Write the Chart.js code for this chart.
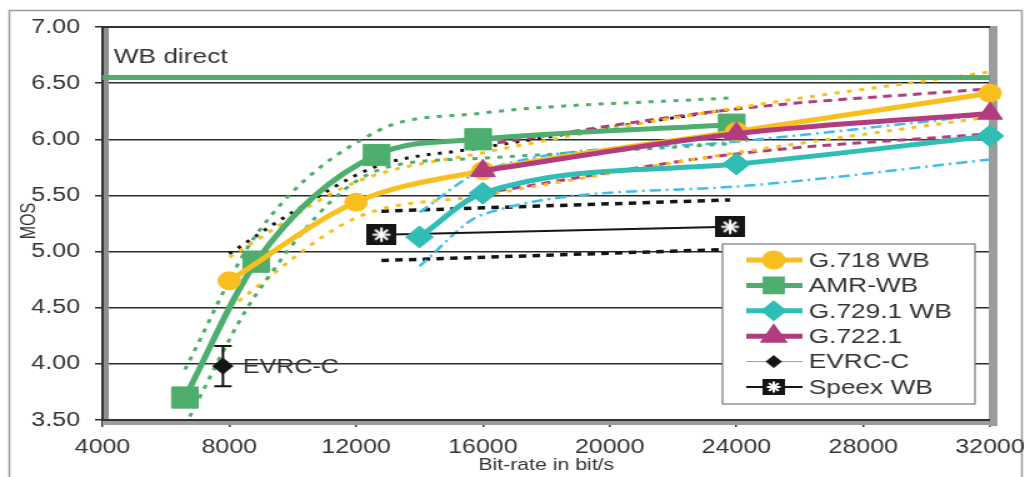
<!DOCTYPE html>
<html>
<head>
<meta charset="utf-8">
<script src="https://cdn.jsdelivr.net/npm/chart.js@4.4.1/dist/chart.umd.min.js"></script>
<style>
html, body { margin: 0; padding: 0; background: #fff; overflow: hidden; }
#wrap { position: absolute; left: 0; top: 0; width: 823px; height: 477px; transform: scaleX(1.25); transform-origin: 0 0; filter: blur(0.4px); }
</style>
</head>
<body>
<div id="wrap"><canvas id="c" width="823" height="477"></canvas></div>
<script>
// values (MOS vs bit-rate)
var rateG718 = [8000, 12000, 16000, 24000, 32000];
var mosG718 = [4.74, 5.44, 5.72, 6.07, 6.41];
var g718Hi = [4.95, 5.62, 5.88, 6.28, 6.60];
var g718Lo = [4.50, 5.30, 5.50, 5.88, 6.20];

var rateAmr = [6600, 8850, 12650, 15850, 23850];
var mosAmr = [3.70, 4.91, 5.86, 6.00, 6.13];
var amrHi = [3.95, 5.15, 6.07, 6.23, 6.37];
var amrLo = [3.45, 4.62, 5.72, 5.83, 5.96];

var rateG729 = [14000, 16000, 24000, 32000];
var mosG729 = [5.13, 5.52, 5.78, 6.03];
var g729Hi = [5.35, 5.72, 5.98, 6.22];
var g729Lo = [4.87, 5.33, 5.58, 5.82];

var rateG722 = [16000, 24000, 32000];
var mosG722 = [5.72, 6.05, 6.23];
var g722Hi = [5.95, 6.27, 6.45];
var g722Lo = [5.52, 5.87, 6.05];

var rateSpeex = [12800, 23800];
var mosSpeex = [5.15, 5.22];
var speexHi = [5.36, 5.46];
var speexLo = [4.92, 5.02];

var rateEvrc = [7800];
var mosEvrc = [3.98];
var evrcHi = [4.16];
var evrcLo = [3.80];

// unlabelled black dotted curve
var rateRef = [8000, 10000, 12650, 15850, 23850];
var mosRef = [4.98, 5.35, 5.76, 5.92, 6.27];

var wbDirect = 6.55;
var xMin = 4000, xMax = 32000, xStep = 4000;
var yMin = 3.5, yMax = 7, yStep = 0.5;

var FONT = "'Liberation Sans', Arial, sans-serif";
var YELLOW = '#F8BF1E', GREEN = '#4DAE6D', TEAL = '#2FBDB6', MAGENTA = '#B23C7D', BLUE = '#3DBDEF', BLACK = '#151515';

function pts(xs, ys) {
	return xs.map(function (x, i) { return { x: x, y: ys[i] }; });
}

function speexMark(w, h) {
	var c = document.createElement('canvas');
	c.width = w; c.height = h;
	var g = c.getContext('2d');
	g.fillStyle = BLACK;
	g.fillRect(0, 0, w, h);
	g.strokeStyle = '#fff';
	g.lineWidth = 2;
	var cx = w / 2, cy = h / 2, r = Math.min(w, h) * 0.34;
	for (var a = 0; a < 4; a++) {
		var t = a * Math.PI / 4;
		g.beginPath();
		g.moveTo(cx - r * Math.cos(t), cy - r * Math.sin(t));
		g.lineTo(cx + r * Math.cos(t), cy + r * Math.sin(t));
		g.stroke();
	}
	return c;
}
var speexBig = speexMark(24, 21);
var speexSmall = speexMark(18, 16);

function mainSet(label, xs, ys, color, style, radius, order) {
	return {
		label: label, data: pts(xs, ys), showLine: true, borderColor: color, borderWidth: 5,
		backgroundColor: color, pointBackgroundColor: color, pointBorderColor: color, pointBorderWidth: 1,
		pointStyle: style, pointRadius: radius, cubicInterpolationMode: 'monotone', clip: false, order: order
	};
}
function ciSet(xs, ys, color, dash, width) {
	return {
		label: '', data: pts(xs, ys), showLine: true, borderColor: color, borderWidth: width,
		borderDash: dash, pointRadius: 0, cubicInterpolationMode: 'monotone', order: 20
	};
}

var datasets = [
	mainSet('G.718 WB', rateG718, mosG718, YELLOW, 'circle', 9, 3),
	mainSet('AMR-WB', rateAmr, mosAmr, GREEN, 'rect', 15, 4),
	mainSet('G.729.1 WB', rateG729, mosG729, TEAL, 'rectRot', 11, 1),
	mainSet('G.722.1', rateG722, mosG722, MAGENTA, 'triangle', 11.5, 0),
	{
		label: 'EVRC-C', data: pts(rateEvrc, mosEvrc), showLine: false, borderColor: BLUE, borderWidth: 1,
		pointBackgroundColor: BLACK, pointBorderColor: BLACK, pointStyle: 'rectRot', pointRadius: 8, clip: false, order: 2
	},
	{
		label: 'Speex WB', data: pts(rateSpeex, mosSpeex), showLine: true, borderColor: BLACK, borderWidth: 2,
		pointStyle: speexBig, pointRadius: 12, clip: false, order: 5
	},
	{
		label: 'WB direct', data: [{ x: xMin, y: wbDirect }, { x: xMax, y: wbDirect }], showLine: true,
		borderColor: GREEN, borderWidth: 5, pointRadius: 0, order: 6
	},
	ciSet(rateAmr, amrHi, GREEN, [4, 6], 3),
	ciSet(rateAmr, amrLo, GREEN, [4, 6], 3),
	ciSet(rateG718, g718Hi, YELLOW, [4, 6], 3),
	ciSet(rateG718, g718Lo, YELLOW, [4, 6], 3),
	ciSet(rateG722, g722Hi, MAGENTA, [7, 5], 3),
	ciSet(rateG722, g722Lo, MAGENTA, [7, 5], 3),
	ciSet(rateG729, g729Hi, BLUE, [9, 4, 2, 4], 2.5),
	ciSet(rateG729, g729Lo, BLUE, [9, 4, 2, 4], 2.5),
	ciSet(rateSpeex, speexHi, BLACK, [6, 5], 3.5),
	ciSet(rateSpeex, speexLo, BLACK, [6, 5], 3.5),
	ciSet(rateRef, mosRef, BLACK, [3, 6], 3)
];

var legendItems = [
	{ idx: 0, r: 7 }, { idx: 1, r: 9 }, { idx: 2, r: 7 }, { idx: 3, r: 8 }, { idx: 4, r: 6 }, { idx: 5, img: speexSmall }
];

var decor = {
	id: 'decor',
	beforeDraw: function (chart) {
		var ctx = chart.ctx;
		ctx.save();
		ctx.strokeStyle = '#9a9a9a';
		ctx.lineWidth = 1.5;
		ctx.strokeRect(7.5, 10.5, 810, 480);
		ctx.restore();
	},
	beforeDatasetsDraw: function (chart) {
		var a = chart.chartArea, ctx = chart.ctx;
		ctx.save();
		ctx.fillStyle = '#8e8e8e';
		ctx.fillRect(a.left, a.top, 5, a.bottom - a.top);
		ctx.fillStyle = '#9c9c9c';
		ctx.fillRect(a.right - 1, a.top - 1, 7, a.bottom - a.top + 7);
		ctx.fillRect(a.left, a.bottom, a.right - a.left + 5, 5);
		ctx.strokeStyle = '#333';
		ctx.lineWidth = 2;
		ctx.beginPath();
		ctx.moveTo(a.left, a.bottom); ctx.lineTo(a.left, a.top); ctx.lineTo(a.right, a.top);
		ctx.moveTo(a.left, a.bottom); ctx.lineTo(a.right, a.bottom);
		ctx.stroke();
		ctx.restore();
	},
	afterDatasetsDraw: function (chart) {
		var ctx = chart.ctx, a = chart.chartArea;
		var xs = chart.scales.x, ys = chart.scales.y;
		ctx.save();
		// EVRC-C error bar
		ctx.strokeStyle = BLACK;
		ctx.lineWidth = 2;
		rateEvrc.forEach(function (r, i) {
			var px = xs.getPixelForValue(r);
			var top = ys.getPixelForValue(evrcHi[i]), bot = ys.getPixelForValue(evrcLo[i]);
			ctx.beginPath();
			ctx.moveTo(px, top); ctx.lineTo(px, bot);
			ctx.moveTo(px - 7, top); ctx.lineTo(px + 7, top);
			ctx.moveTo(px - 7, bot); ctx.lineTo(px + 7, bot);
			ctx.stroke();
		});
		// texts
		ctx.fillStyle = '#333';
		ctx.textBaseline = 'middle';
		ctx.textAlign = 'left';
		ctx.font = '21px ' + FONT;
		ctx.fillText('WB direct', a.left + 9, ys.getPixelForValue(wbDirect) - 20);
		ctx.font = '20px ' + FONT;
		ctx.fillText('EVRC-C', xs.getPixelForValue(rateEvrc[0]) + 16, ys.getPixelForValue(mosEvrc[0]) + 1);
		ctx.font = '17px ' + FONT;
		ctx.textAlign = 'center';
		ctx.fillText('Bit-rate in bit/s', (a.left + a.right) / 2, 465);
		ctx.save();
		ctx.translate(24, 221);
		ctx.rotate(-Math.PI / 2);
		ctx.font = '16px ' + FONT;
		ctx.fillText('MOS', 0, 0);
		ctx.restore();
		// legend
		var bx = a.right - 214, by = 244, bw = 202, bh = 160;
		ctx.fillStyle = '#fff';
		ctx.fillRect(bx, by, bw, bh);
		ctx.strokeStyle = '#777';
		ctx.lineWidth = 1.2;
		ctx.strokeRect(bx, by, bw, bh);
		legendItems.forEach(function (it, i) {
			var ds = datasets[it.idx];
			var y = by + 16 + i * 25.4;
			ctx.strokeStyle = ds.borderColor;
			ctx.lineWidth = ds.borderWidth;
			ctx.beginPath();
			ctx.moveTo(bx + 19, y); ctx.lineTo(bx + 64, y);
			ctx.stroke();
			var cx = bx + 41;
			if (it.img) {
				ctx.drawImage(it.img, cx - it.img.width / 2, y - it.img.height / 2);
			} else {
				ctx.fillStyle = ds.pointBackgroundColor;
				ctx.strokeStyle = ds.pointBorderColor;
				Chart.helpers.drawPoint(ctx, { pointStyle: ds.pointStyle, radius: it.r, rotation: 0, borderWidth: 1 }, cx, y);
			}
			ctx.fillStyle = '#333';
			ctx.font = '21px ' + FONT;
			ctx.textAlign = 'left';
			ctx.textBaseline = 'middle';
			ctx.fillText(ds.label, bx + 69, y + 1);
		});
		ctx.restore();
	}
};

new Chart(document.getElementById('c'), {
	type: 'scatter',
	data: { datasets: datasets },
	plugins: [decor],
	options: {
		responsive: false,
		animation: false,
		events: [],
		layout: { padding: { top: 27, right: 31, left: 0, bottom: 0 } },
		plugins: { legend: { display: false }, tooltip: { enabled: false } },
		scales: {
			x: {
				type: 'linear', min: xMin, max: xMax,
				ticks: { stepSize: xStep, padding: 2, color: '#333', font: { family: FONT, size: 20, lineHeight: '36px' }, callback: function (v) { return '' + v; } },
				grid: { drawOnChartArea: false, tickLength: 7, color: '#333', lineWidth: 1.5 },
				border: { display: false },
				afterFit: function (s) { s.height = 57; }
			},
			y: {
				min: yMin, max: yMax,
				ticks: { stepSize: yStep, padding: 12, color: '#333', font: { family: FONT, size: 20 }, callback: function (v) { return v.toFixed(2); } },
				grid: { color: '#2a2a2a', lineWidth: 1.5, tickLength: 6 },
				border: { display: false },
				afterFit: function (s) { s.width = 82; }
			}
		}
	}
});
</script>
</body>
</html>
